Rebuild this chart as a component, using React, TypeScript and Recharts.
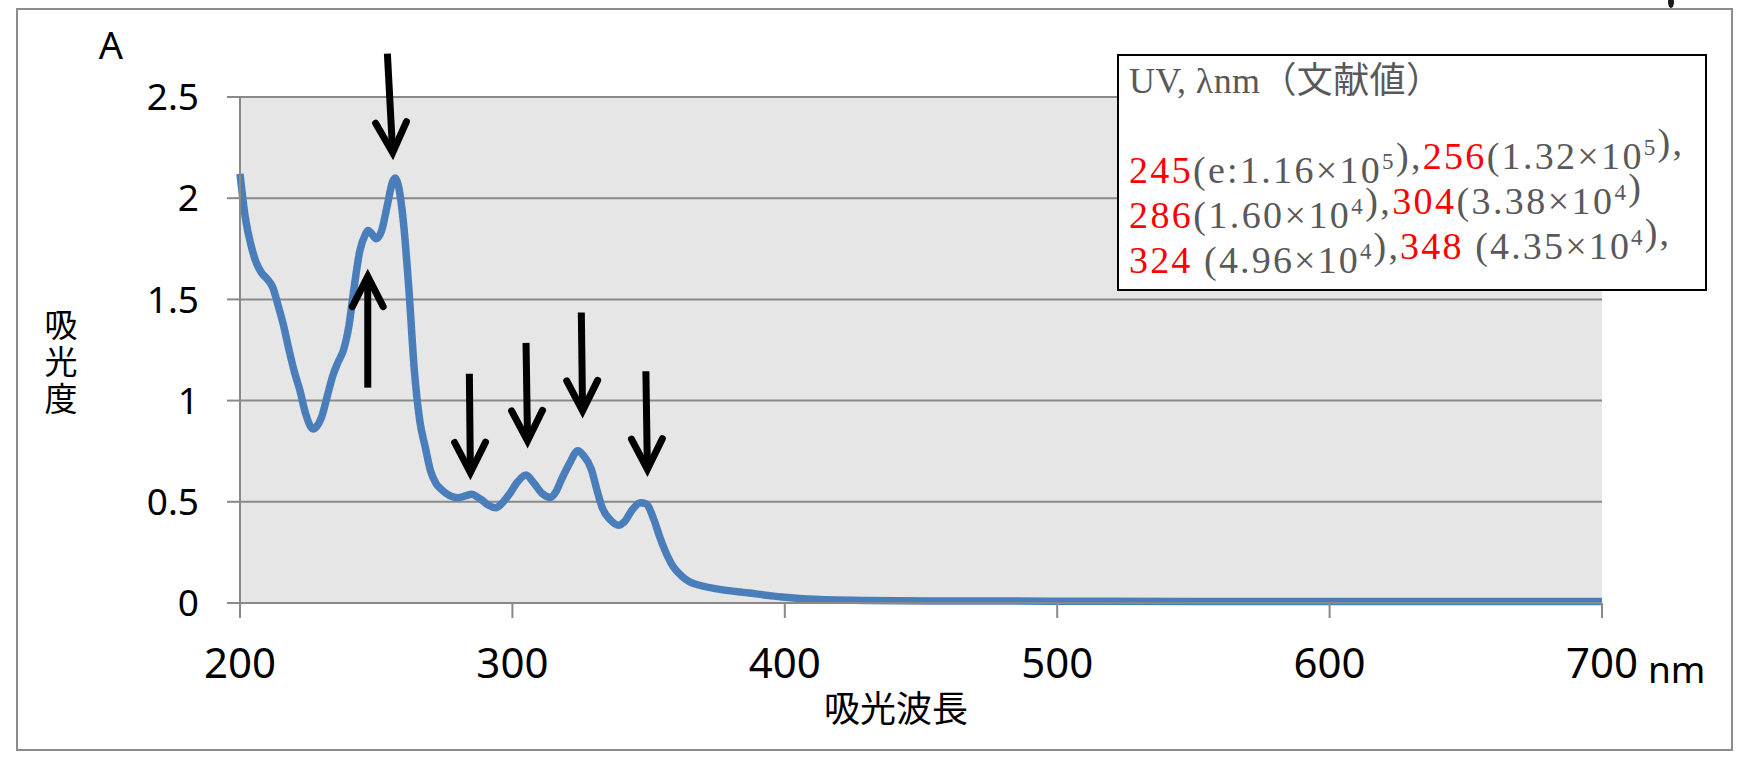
import React from 'react';
import { LineChart, Line, XAxis, YAxis, CartesianGrid, ReferenceLine } from 'recharts';

// 吸収スペクトル (読み取り値)
const wavelengths = [
  200, 202, 204, 206, 208, 210, 212, 214, 216, 218, 220, 222, 224, 226, 227, 228, 230, 232, 234, 236,
  238, 240, 242, 244, 246, 247, 248, 250, 252, 254, 256, 257, 258, 260, 262, 264, 266, 268, 270, 272,
  274, 277, 280, 283, 285, 287, 289, 291, 294, 296, 299, 302, 305, 308, 311, 314, 316, 318, 321, 324,
  326, 329, 331, 333, 336, 339, 341, 344, 347, 349, 352, 354, 356, 359, 362, 365, 368, 375, 387, 399,
  411, 430, 460, 500, 550, 600, 650, 700,
];
const absorbance = [
  2.12, 1.9, 1.77, 1.68, 1.63, 1.6, 1.56, 1.47, 1.37, 1.25, 1.14, 1.05, 0.94, 0.87, 0.86, 0.87, 0.92, 1.02, 1.12, 1.19,
  1.25, 1.37, 1.57, 1.74, 1.82, 1.84, 1.83, 1.8, 1.84, 1.96, 2.08, 2.1, 2.07, 1.88, 1.55, 1.15, 0.9, 0.77, 0.65, 0.59,
  0.56, 0.53, 0.52, 0.53, 0.537, 0.525, 0.507, 0.485, 0.471, 0.49, 0.54, 0.6, 0.632, 0.59, 0.54, 0.521, 0.55, 0.61, 0.69, 0.752,
  0.73, 0.66, 0.56, 0.47, 0.41, 0.384, 0.4, 0.46, 0.495, 0.49, 0.41, 0.33, 0.26, 0.18, 0.135, 0.105, 0.09, 0.07, 0.049, 0.03,
  0.018, 0.012, 0.01, 0.009, 0.008, 0.008, 0.008, 0.008,
];

const xTicks = [200, 300, 400, 500, 600, 700];
const yTicks = [0, 0.5, 1, 1.5, 2, 2.5];

// 矢印: 根元 → 先端
const arrowFromX = [246.9, 254.1, 284.2, 305.0, 325.3, 349.0];
const arrowFromY = [1.064, 2.714, 1.133, 1.285, 1.435, 1.145];
const arrowToX = [246.9, 256.2, 284.6, 305.6, 325.8, 349.6];
const arrowToY = [1.652, 2.187, 0.606, 0.763, 0.911, 0.623];

const spectrum = wavelengths.map((nm, i) => ({ nm, a: absorbance[i] }));

const AXIS_GRAY = '#898989';
const TEXT_GRAY = '#595959';

function Arrow(props: any) {
  const { x1, y1, x2, y2 } = props;
  const dx = x2 - x1;
  const dy = y2 - y1;
  const len = Math.hypot(dx, dy) || 1;
  const ux = dx / len;
  const uy = dy / len;
  const w = 7;
  const ang = (27 * Math.PI) / 180;
  const off = w / 2 / Math.sin(ang);
  const tx = x2 - ux * off;
  const ty = y2 - uy * off;
  const L = 34;
  const rot = (a: number) => [ux * Math.cos(a) - uy * Math.sin(a), ux * Math.sin(a) + uy * Math.cos(a)];
  const [ax, ay] = rot(ang);
  const [bx, by] = rot(-ang);
  return (
    <g>
      <line x1={x1} y1={y1} x2={tx - ux * 4} y2={ty - uy * 4} stroke="#000" strokeWidth={w} />
      <polyline
        points={`${tx - ax * L},${ty - ay * L} ${tx},${ty} ${tx - bx * L},${ty - by * L}`}
        fill="none"
        stroke="#000"
        strokeWidth={w}
        strokeLinejoin="miter"
        strokeLinecap="round"
      />
    </g>
  );
}

const Sup = ({ children }: { children: React.ReactNode }) => (
  <>
    <tspan dy={-14} fontSize={23}>{children}</tspan>
    <tspan dy={14}>{''}</tspan>
  </>
);

export default function App() {
  const serif = '"Liberation Serif", "Noto Sans CJK JP", serif';
  return (
    <div style={{ position: 'absolute', left: 0, top: 0, width: 1739, height: 757, background: '#fff' }}>
      <LineChart width={1739} height={757} data={spectrum} margin={{ top: 97, right: 137, bottom: 0, left: 0 }}>
        <CartesianGrid vertical={false} fill="#e6e6e6" stroke={AXIS_GRAY} strokeWidth={2} />
        <XAxis
          dataKey="nm"
          type="number"
          domain={[200, 700]}
          ticks={xTicks}
          height={154}
          tickSize={15}
          tickMargin={30}
          axisLine={{ stroke: AXIS_GRAY, strokeWidth: 2 }}
          tickLine={{ stroke: AXIS_GRAY, strokeWidth: 2 }}
          tick={{ fontSize: 42, fill: '#000', fontFamily: '"Noto Sans", sans-serif' }}
        />
        <YAxis
          type="number"
          domain={[0, 2.5]}
          ticks={yTicks}
          width={240}
          tickSize={13}
          tickMargin={28}
          axisLine={{ stroke: AXIS_GRAY, strokeWidth: 2 }}
          tickLine={{ stroke: AXIS_GRAY, strokeWidth: 2 }}
          tick={{ fontSize: 37, fill: '#000', fontFamily: '"Noto Sans", sans-serif' }}
        />
        <Line
          type="monotone"
          dataKey="a"
          stroke="#4a7ebb"
          strokeWidth={7.5}
          dot={false}
          activeDot={false}
          isAnimationActive={false}
        />
        {arrowFromX.map((x, i) => (
          <ReferenceLine
            key={i}
            segment={[
              { x, y: arrowFromY[i] },
              { x: arrowToX[i], y: arrowToY[i] },
            ]}
            ifOverflow="visible"
            shape={Arrow}
          />
        ))}
      </LineChart>

      <svg
        width={1739}
        height={757}
        style={{ position: 'absolute', left: 0, top: 0, pointerEvents: 'none' }}
      >
        <rect x={17} y={9} width={1715} height={741} fill="none" stroke="#8c8c8c" strokeWidth={2} />
        <ellipse cx={1671} cy={2} rx={3} ry={6} fill="#1a1a1a" />

        <text x={111} y={59} textAnchor="middle" fontSize={38} fontFamily='"Noto Sans", sans-serif' fill="#000">
          A
        </text>
        <text
          x={61}
          y={337}
          textAnchor="middle"
          fontSize={33}
          fontFamily='"Noto Sans CJK JP", sans-serif'
          fill="#000"
        >
          <tspan x={61}>吸</tspan>
          <tspan x={61} dy={37}>光</tspan>
          <tspan x={61} dy={37}>度</tspan>
        </text>
        <text
          x={896}
          y={706}
          textAnchor="middle"
          dominantBaseline="central"
          fontSize={36}
          fontFamily='"Noto Sans CJK JP", sans-serif'
          fill="#000"
        >
          吸光波長
        </text>
        <text x={1648} y={683} fontSize={37} fontFamily='"Noto Sans", sans-serif' fill="#000">
          nm
        </text>

        <rect x={1118} y={55} width={588} height={235} fill="#fff" stroke="#000" strokeWidth={2} />
        <text x={1129} y={93} fontSize={36} fontFamily={serif} fill={TEXT_GRAY} textLength={313} lengthAdjust="spacing">
          UV, λnm（文献値）
        </text>
        <text x={1129} y={183} fontSize={38} fontFamily={serif} fill={TEXT_GRAY} textLength={553} lengthAdjust="spacing">
          <tspan fill="#ff0000">245</tspan>(e:1.16×10<Sup>5</Sup>),<tspan fill="#ff0000">256</tspan>(1.32×10<Sup>5</Sup>),
        </text>
        <text x={1129} y={228} fontSize={38} fontFamily={serif} fill={TEXT_GRAY} textLength={512} lengthAdjust="spacing">
          <tspan fill="#ff0000">286</tspan>(1.60×10<Sup>4</Sup>),<tspan fill="#ff0000">304</tspan>(3.38×10<Sup>4</Sup>)
        </text>
        <text x={1129} y={273} fontSize={38} fontFamily={serif} fill={TEXT_GRAY} textLength={540} lengthAdjust="spacing">
          <tspan fill="#ff0000">324</tspan> (4.96×10<Sup>4</Sup>),<tspan fill="#ff0000">348</tspan> (4.35×10<Sup>4</Sup>),
        </text>
      </svg>
    </div>
  );
}
